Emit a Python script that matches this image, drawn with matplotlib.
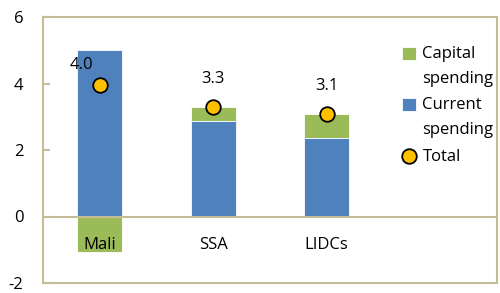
import matplotlib.pyplot as plt
import matplotlib as mpl
from matplotlib.legend_handler import HandlerPatch
from matplotlib.patches import Rectangle
import numpy as np

mpl.rcParams.update({
    'font.family': ['Open Sans', 'DejaVu Sans'],
    'font.size': 12,
    'axes.unicode_minus': False,
})

categories = ['Mali', 'SSA', 'LIDCs']
current = [5.02, 2.88, 2.36]
capital = [-1.07, 0.41, 0.72]
total = [3.96, 3.30, 3.08]
total_labels = ['4.0', '3.3', '3.1']

blue = '#4F81BD'
green = '#9BBB59'
gold = '#FFC000'
frame = '#C4BD97'

fig = plt.figure(figsize=(5.0, 2.93), dpi=100)
ax = fig.add_axes([43 / 500, 10 / 293, 454 / 500, 266 / 293])

x = np.arange(len(categories))
w = 0.4
cur = np.array(current)
cap = np.array(capital)
# capital stacks on top of current when positive, hangs below zero when negative
cap_bottom = np.where(cap >= 0, cur, 0)

b_cap = ax.bar(x, cap, w, bottom=cap_bottom, color=green, edgecolor='white', lw=0.6, zorder=2)
b_cur = ax.bar(x, cur, w, color=blue, edgecolor='white', lw=0.6, zorder=2)
sc = ax.scatter(x, total, s=110, color=gold, edgecolor='black', lw=1.3, zorder=4)

offsets = [(-13, 14), (0, 20), (0, 20)]
for xi, yi, lab, off in zip(x, total, total_labels, offsets):
    ax.annotate(lab, (xi, yi), xytext=off, textcoords='offset points',
                ha='center', va='center', zorder=5)

for xi, name in zip(x, categories):
    ax.text(xi, -0.85, name, ha='center', va='center', zorder=5)

ax.axhline(0, color=frame, lw=1.5, zorder=3)
ax.set_xlim(-0.5, 3.5)
ax.set_ylim(-2, 6)
ax.set_yticks([-2, 0, 2, 4, 6])
ax.set_xticks([])
ax.tick_params(axis='y', direction='in', length=5, width=1.5, color=frame, pad=14)
for s in ax.spines.values():
    s.set_color(frame)
    s.set_linewidth(1.5)


# square handle sits level with the first line of a two-line label
def top_square(legend, orig_handle, xdescent, ydescent, width, height, fontsize):
    return Rectangle((-xdescent, -ydescent + 0.8 * fontsize), width, height)


h_cap, h_cur = b_cap.patches[0], b_cur.patches[0]
leg = ax.legend([h_cap, h_cur, sc], ['Capital\nspending', 'Current\nspending', 'Total'],
                loc='upper left', bbox_to_anchor=(0.79, 0.89),
                frameon=False, handlelength=0.85, handleheight=0.85, handletextpad=0.4,
                labelspacing=0.65, borderaxespad=0, borderpad=0,
                handler_map={h_cap: HandlerPatch(patch_func=top_square),
                             h_cur: HandlerPatch(patch_func=top_square)})
for t in leg.get_texts():
    t.set_linespacing(1.7)

fig.savefig('out.png')
